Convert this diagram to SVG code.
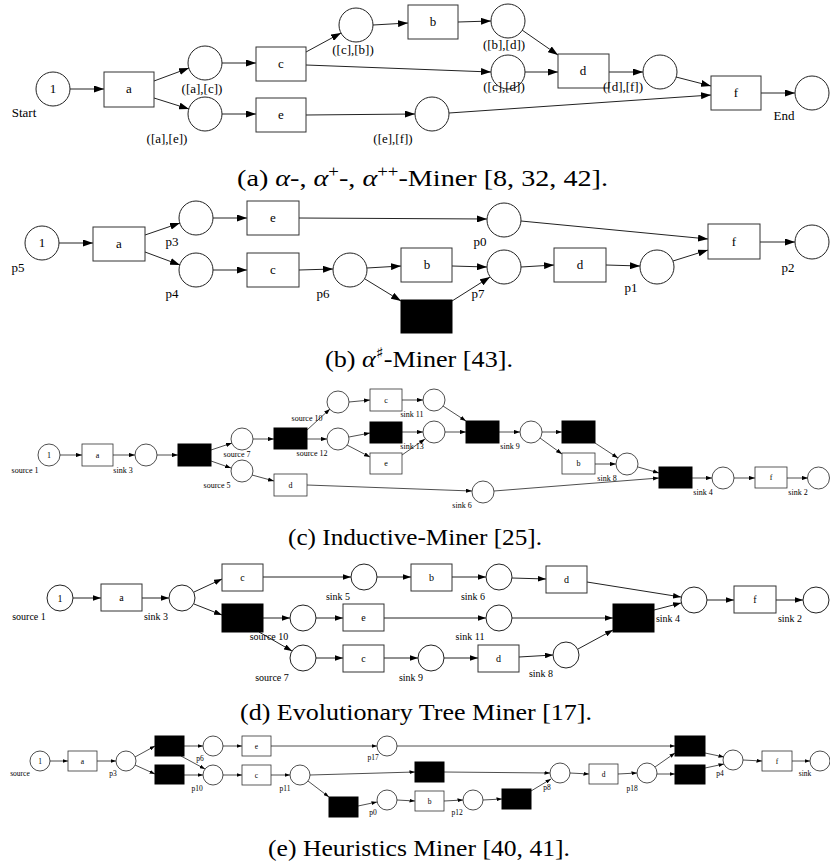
<svg xmlns="http://www.w3.org/2000/svg" width="830" height="867" viewBox="0 0 830 867">
<style>
text{font-family:"Liberation Serif","Times New Roman",serif;fill:#000}
.pl{fill:#fff;stroke:#222;stroke-width:1}
.tr{fill:#fff;stroke:#333;stroke-width:1}
.bk{fill:#000;stroke:#000;stroke-width:1}
.e{fill:none;stroke:#222;stroke-width:1}
.ea{marker-end:url(#mA)}
.ec{marker-end:url(#mC);stroke-width:0.8}
.ed{marker-end:url(#mD)}
.ee{marker-end:url(#mE);stroke-width:0.8}
.ta{font-size:13px;text-anchor:middle}
.tc{font-size:8px;text-anchor:middle}
.td{font-size:10px;text-anchor:middle}
.te{font-size:7.5px;text-anchor:middle}
.cap{font-size:24px}
.sc .pl,.sc .tr,.se .pl,.se .tr{stroke-width:0.8}
</style>
<defs>
<marker id="mA" viewBox="0 0 10 7" refX="10" refY="3.5" markerWidth="10" markerHeight="7" markerUnits="userSpaceOnUse" orient="auto"><path d="M0,0L10,3.5L0,7z" fill="#000"/></marker>
<marker id="mC" viewBox="0 0 10 7" refX="10" refY="3.5" markerWidth="6" markerHeight="4.4" markerUnits="userSpaceOnUse" orient="auto"><path d="M0,0L10,3.5L0,7z" fill="#000"/></marker>
<marker id="mD" viewBox="0 0 10 7" refX="10" refY="3.5" markerWidth="8" markerHeight="5.6" markerUnits="userSpaceOnUse" orient="auto"><path d="M0,0L10,3.5L0,7z" fill="#000"/></marker>
<marker id="mE" viewBox="0 0 10 7" refX="10" refY="3.5" markerWidth="5.5" markerHeight="4" markerUnits="userSpaceOnUse" orient="auto"><path d="M0,0L10,3.5L0,7z" fill="#000"/></marker>
</defs>

<!-- ===== (a) ===== -->
<g id="a-connectors" class="e ea">
<path d="M70,89L104,89"/><path d="M154,81L189,68"/><path d="M154,98L189,109"/>
<path d="M222,63L256,63"/><path d="M222,114L256,114"/><path d="M306,52L341,33"/>
<path d="M306,65L491,72"/><path d="M306,115L415,114"/><path d="M373,25L408,23"/>
<path d="M458,22L491,21"/><path d="M522,30L558,55"/><path d="M525,72L558,72"/>
<path d="M609,72L643,72"/><path d="M676,77L711,86"/><path d="M449,113L711,95"/>
<path d="M761,93L795,93"/>
</g>
<g id="a-start"><circle class="pl" cx="53" cy="89" r="17"/><text class="ta" x="53" y="93">1</text><text class="ta" x="24" y="117">Start</text></g>
<g id="a-t-a"><rect class="tr" x="104" y="72" width="50" height="35"/><text class="ta" x="129" y="93">a</text></g>
<g id="a-p-ac"><circle class="pl" cx="205" cy="63" r="17"/><text class="ta" x="202" y="93">([a],[c])</text></g>
<g id="a-p-ae"><circle class="pl" cx="205" cy="114" r="17"/><text class="ta" x="167" y="143">([a],[e])</text></g>
<g id="a-t-c"><rect class="tr" x="256" y="47" width="50" height="34"/><text class="ta" x="281" y="68">c</text></g>
<g id="a-t-e"><rect class="tr" x="256" y="98" width="50" height="34"/><text class="ta" x="281" y="119">e</text></g>
<g id="a-p-cb"><circle class="pl" cx="356" cy="25" r="17"/><text class="ta" x="353" y="54">([c],[b])</text></g>
<g id="a-t-b"><rect class="tr" x="408" y="5" width="50" height="34"/><text class="ta" x="433" y="26">b</text></g>
<g id="a-p-bd"><circle class="pl" cx="508" cy="21" r="17"/><text class="ta" x="504" y="49">([b],[d])</text></g>
<g id="a-p-cd"><circle class="pl" cx="508" cy="72" r="17"/><text class="ta" x="504" y="91">([c],[d])</text></g>
<g id="a-t-d"><rect class="tr" x="558" y="54" width="51" height="34"/><text class="ta" x="583" y="75">d</text></g>
<g id="a-p-df"><circle class="pl" cx="660" cy="72" r="17"/><text class="ta" x="623" y="91">([d],[f])</text></g>
<g id="a-p-ef"><circle class="pl" cx="432" cy="114" r="17"/><text class="ta" x="393" y="143">([e],[f])</text></g>
<g id="a-t-f"><rect class="tr" x="711" y="76" width="50" height="34"/><text class="ta" x="736" y="97">f</text></g>
<g id="a-end"><circle class="pl" cx="812" cy="93" r="17"/><text class="ta" x="784" y="120">End</text></g>
<text class="cap" x="237" y="186" textLength="371" lengthAdjust="spacingAndGlyphs">(a) <tspan font-style="italic">α</tspan>-, <tspan font-style="italic">α</tspan><tspan font-size="16" dy="-9">+</tspan><tspan dy="9">-, </tspan><tspan font-style="italic">α</tspan><tspan font-size="16" dy="-9">++</tspan><tspan dy="9">-Miner [8, 32, 42].</tspan></text>

<!-- ===== (b) ===== -->
<g id="b-connectors" class="e ea">
<path d="M59,243L93,243"/><path d="M145,235L180,223"/><path d="M145,252L180,265"/>
<path d="M213,218L247,218"/><path d="M213,270L247,270"/><path d="M299,218L487,219"/>
<path d="M299,270L333,269"/><path d="M367,268L401,266"/><path d="M365,279L401,301"/>
<path d="M452,266L487,267"/><path d="M452,301L490,277"/><path d="M521,221L708,239"/>
<path d="M521,267L554,265"/><path d="M606,265L640,266"/><path d="M673,261L708,250"/>
<path d="M760,242L795,242"/>
</g>
<g id="b-p5"><circle class="pl" cx="42" cy="243" r="17"/><text class="ta" x="42" y="247">1</text><text class="ta" x="18" y="272">p5</text></g>
<g id="b-t-a"><rect class="tr" x="93" y="227" width="52" height="34"/><text class="ta" x="119" y="248">a</text></g>
<g id="b-p3"><circle class="pl" cx="196" cy="218" r="17"/><text class="ta" x="172" y="246">p3</text></g>
<g id="b-p4"><circle class="pl" cx="196" cy="270" r="17"/><text class="ta" x="172" y="298">p4</text></g>
<g id="b-t-e"><rect class="tr" x="247" y="201" width="52" height="34"/><text class="ta" x="273" y="222">e</text></g>
<g id="b-t-c"><rect class="tr" x="247" y="253" width="52" height="34"/><text class="ta" x="273" y="274">c</text></g>
<g id="b-p6"><circle class="pl" cx="350" cy="270" r="17"/><text class="ta" x="323" y="298">p6</text></g>
<g id="b-t-b"><rect class="tr" x="401" y="248" width="51" height="34"/><text class="ta" x="427" y="269">b</text></g>
<g id="b-t-silent"><rect class="bk" x="401" y="300" width="51" height="33"/></g>
<g id="b-p0"><circle class="pl" cx="504" cy="220" r="17"/><text class="ta" x="480" y="246">p0</text></g>
<g id="b-p7"><circle class="pl" cx="504" cy="267" r="17"/><text class="ta" x="478" y="298">p7</text></g>
<g id="b-t-d"><rect class="tr" x="554" y="248" width="52" height="34"/><text class="ta" x="580" y="269">d</text></g>
<g id="b-p1"><circle class="pl" cx="657" cy="267" r="17"/><text class="ta" x="631" y="292">p1</text></g>
<g id="b-t-f"><rect class="tr" x="708" y="224" width="52" height="35"/><text class="ta" x="734" y="246">f</text></g>
<g id="b-p2"><circle class="pl" cx="812" cy="242" r="17"/><text class="ta" x="788" y="272">p2</text></g>
<text class="cap" x="325" y="367" textLength="188" lengthAdjust="spacingAndGlyphs">(b) <tspan font-style="italic">α</tspan><tspan font-size="15" dy="-9" font-family="DejaVu Serif, serif">♯</tspan><tspan dy="9">-Miner [43].</tspan></text>

<!-- ===== (c) ===== -->
<g id="c-connectors" class="e ec">
<path d="M60,455L82,455"/><path d="M113,455L135,455"/><path d="M157,455L178,455"/>
<path d="M211,450L232,443"/><path d="M211,461L231,468"/><path d="M253,439L274,439"/>
<path d="M252,475L274,481"/><path d="M307,430L330,409"/><path d="M307,439L327,439"/>
<path d="M349,402L370,400"/><path d="M349,437L370,433"/><path d="M347,445L370,457"/>
<path d="M402,400L423,400"/><path d="M402,432L423,432"/><path d="M402,455L425,439"/>
<path d="M443,406L466,421"/><path d="M445,432L466,432"/><path d="M499,432L520,432"/>
<path d="M542,432L562,432"/><path d="M540,438L562,454"/><path d="M595,443L618,458"/>
<path d="M595,464L616,464"/><path d="M307,485L472,491"/><path d="M638,467L659,473"/>
<path d="M494,491L659,478"/><path d="M692,478L712,478"/><path d="M734,478L755,478"/>
<path d="M787,478L808,478"/>
</g>
<g class="sc">
<g id="c-source1"><circle class="pl" cx="49" cy="455" r="11"/><text class="tc" x="49" y="458">1</text><text class="tc" x="25" y="473">source 1</text></g>
<g id="c-t-a"><rect class="tr" x="82" y="444" width="31" height="22"/><text class="tc" x="97.5" y="458">a</text></g>
<g id="c-sink3"><circle class="pl" cx="146" cy="455" r="11"/><text class="tc" x="123" y="473">sink 3</text></g>
<g id="c-t-tau1"><rect class="bk" x="178" y="444" width="33" height="22"/></g>
<g id="c-source7"><circle class="pl" cx="242" cy="439" r="11"/><text class="tc" x="237" y="457">source 7</text></g>
<g id="c-source5"><circle class="pl" cx="242" cy="471" r="11"/><text class="tc" x="217" y="488">source 5</text></g>
<g id="c-t-tau2"><rect class="bk" x="274" y="428" width="33" height="21"/></g>
<g id="c-t-d"><rect class="tr" x="274" y="474" width="33" height="22"/><text class="tc" x="290.5" y="488">d</text></g>
<g id="c-source10"><circle class="pl" cx="338" cy="402" r="11"/><text class="tc" x="307" y="421">source 10</text></g>
<g id="c-source12"><circle class="pl" cx="338" cy="439" r="11"/><text class="tc" x="312" y="456">source 12</text></g>
<g id="c-t-c"><rect class="tr" x="370" y="389" width="32" height="22"/><text class="tc" x="386" y="403">c</text></g>
<g id="c-t-tau3"><rect class="bk" x="370" y="422" width="32" height="21"/></g>
<g id="c-t-e"><rect class="tr" x="370" y="453" width="32" height="21"/><text class="tc" x="386" y="466">e</text></g>
<g id="c-sink11"><circle class="pl" cx="434" cy="400" r="11"/><text class="tc" x="412" y="417">sink 11</text></g>
<g id="c-sink13"><circle class="pl" cx="434" cy="432" r="11"/><text class="tc" x="412" y="449">sink 13</text></g>
<g id="c-t-tau4"><rect class="bk" x="466" y="421" width="33" height="22"/></g>
<g id="c-sink9"><circle class="pl" cx="531" cy="432" r="11"/><text class="tc" x="510" y="449">sink 9</text></g>
<g id="c-t-tau5"><rect class="bk" x="562" y="421" width="33" height="22"/></g>
<g id="c-t-b"><rect class="tr" x="562" y="453" width="33" height="21"/><text class="tc" x="578.5" y="466">b</text></g>
<g id="c-sink8"><circle class="pl" cx="627" cy="464" r="11"/><text class="tc" x="607" y="481">sink 8</text></g>
<g id="c-sink6"><circle class="pl" cx="483" cy="492" r="11"/><text class="tc" x="462" y="508">sink 6</text></g>
<g id="c-t-tau6"><rect class="bk" x="659" y="467" width="33" height="21"/></g>
<g id="c-sink4"><circle class="pl" cx="723" cy="478" r="11"/><text class="tc" x="703" y="495">sink 4</text></g>
<g id="c-t-f"><rect class="tr" x="755" y="467" width="32" height="21"/><text class="tc" x="771" y="480">f</text></g>
<g id="c-sink2"><circle class="pl" cx="818.5" cy="478" r="11"/><text class="tc" x="798" y="495">sink 2</text></g>
</g>
<text class="cap" x="288" y="545" textLength="254" lengthAdjust="spacingAndGlyphs">(c) Inductive-Miner [25].</text>

<!-- ===== (d) ===== -->
<g id="d-connectors" class="e ed">
<path d="M73,598L101,598"/><path d="M142,598L169,598"/><path d="M194,592L222,579"/>
<path d="M194,604L222,615"/><path d="M263,577L351,577"/><path d="M263,618L290,618"/>
<path d="M259,632L292,651"/><path d="M377,577L411,577"/><path d="M316,618L343,618"/>
<path d="M316,658L343,658"/><path d="M452,577L486,577"/><path d="M384,618L486,618"/>
<path d="M384,658L418,658"/><path d="M512,578L546,579"/><path d="M444,658L478,658"/>
<path d="M519,657L553,655"/><path d="M587,582L681,597"/><path d="M512,618L613,618"/>
<path d="M578,649L613,630"/><path d="M654,610L681,603"/><path d="M707,600L734,600"/>
<path d="M776,600L803,600"/>
</g>
<g id="d-source1"><circle class="pl" cx="60" cy="598" r="13"/><text class="td" x="60" y="602">1</text><text class="td" x="29" y="620">source 1</text></g>
<g id="d-t-a"><rect class="tr" x="101" y="584" width="41" height="27"/><text class="td" x="121.5" y="601">a</text></g>
<g id="d-sink3"><circle class="pl" cx="182" cy="598" r="13"/><text class="td" x="156" y="620">sink 3</text></g>
<g id="d-t-c1"><rect class="tr" x="222" y="564" width="41" height="27"/><text class="td" x="242.5" y="581">c</text></g>
<g id="d-t-tau1"><rect class="bk" x="222" y="604" width="41" height="28"/></g>
<g id="d-sink5"><circle class="pl" cx="364" cy="577" r="13"/><text class="td" x="338" y="600">sink 5</text></g>
<g id="d-source10"><circle class="pl" cx="303" cy="618" r="13"/><text class="td" x="269" y="640">source 10</text></g>
<g id="d-source7"><circle class="pl" cx="303" cy="658" r="13"/><text class="td" x="272" y="681">source 7</text></g>
<g id="d-t-e"><rect class="tr" x="343" y="604" width="41" height="27"/><text class="td" x="363.5" y="621">e</text></g>
<g id="d-t-c2"><rect class="tr" x="343" y="645" width="41" height="27"/><text class="td" x="363.5" y="662">c</text></g>
<g id="d-t-b"><rect class="tr" x="411" y="564" width="41" height="27"/><text class="td" x="431.5" y="581">b</text></g>
<g id="d-sink9"><circle class="pl" cx="431" cy="658" r="13"/><text class="td" x="411" y="681">sink 9</text></g>
<g id="d-sink6"><circle class="pl" cx="499" cy="577" r="13"/><text class="td" x="473" y="600">sink 6</text></g>
<g id="d-sink11"><circle class="pl" cx="499" cy="618" r="13"/><text class="td" x="470" y="640">sink 11</text></g>
<g id="d-t-d1"><rect class="tr" x="546" y="566" width="41" height="27"/><text class="td" x="566.5" y="583">d</text></g>
<g id="d-t-d2"><rect class="tr" x="478" y="645" width="41" height="27"/><text class="td" x="498.5" y="662">d</text></g>
<g id="d-sink8"><circle class="pl" cx="566" cy="655" r="13"/><text class="td" x="541" y="677">sink 8</text></g>
<g id="d-t-tau2"><rect class="bk" x="613" y="604" width="41" height="28"/></g>
<g id="d-sink4"><circle class="pl" cx="694" cy="600" r="13"/><text class="td" x="668" y="622">sink 4</text></g>
<g id="d-t-f"><rect class="tr" x="734" y="586" width="42" height="27"/><text class="td" x="755" y="603">f</text></g>
<g id="d-sink2"><circle class="pl" cx="816" cy="600" r="13"/><text class="td" x="790" y="622">sink 2</text></g>
<text class="cap" x="240" y="720" textLength="352" lengthAdjust="spacingAndGlyphs">(d) Evolutionary Tree Miner [17].</text>

<!-- ===== (e) ===== -->
<g id="e-connectors" class="e ee">
<path d="M50,761L68,761"/><path d="M97,761L116,761"/><path d="M135,757L155,746"/>
<path d="M135,765L155,774"/><path d="M184,746L203,746"/><path d="M181,756L205,769"/>
<path d="M184,775L203,775"/><path d="M223,746L242,746"/><path d="M223,775L242,775"/>
<path d="M271,746L377,746"/><path d="M271,775L290,775"/><path d="M310,775L415,772"/>
<path d="M308,781L329,797"/><path d="M397,746L675,746"/><path d="M358,806L377,802"/>
<path d="M397,800L415,801"/><path d="M444,772L550,773"/><path d="M444,801L463,800"/>
<path d="M483,800L502,799"/><path d="M531,791L551,779"/><path d="M570,773L589,774"/>
<path d="M618,774L637,773"/><path d="M655,767L675,753"/><path d="M657,774L675,774"/>
<path d="M705,753L724,757"/><path d="M705,768L724,764"/><path d="M743,760L762,761"/>
<path d="M792,761L810,761"/>
</g>
<g class="se">
<g id="e-source"><circle class="pl" cx="40" cy="761" r="10"/><text class="te" x="40" y="764">1</text><text class="te" x="20" y="776">source</text></g>
<g id="e-t-a"><rect class="tr" x="68" y="751" width="29" height="20"/><text class="te" x="82.5" y="764">a</text></g>
<g id="e-p3"><circle class="pl" cx="126" cy="761" r="10"/><text class="te" x="113" y="776">p3</text></g>
<g id="e-t-tau1"><rect class="bk" x="155" y="736" width="29" height="20"/></g>
<g id="e-t-tau2"><rect class="bk" x="155" y="765" width="29" height="19"/></g>
<g id="e-p6"><circle class="pl" cx="213" cy="746" r="10"/><text class="te" x="200" y="761">p6</text></g>
<g id="e-p10"><circle class="pl" cx="213" cy="775" r="10"/><text class="te" x="197" y="791">p10</text></g>
<g id="e-t-e"><rect class="tr" x="242" y="736" width="29" height="20"/><text class="te" x="256.5" y="749">e</text></g>
<g id="e-t-c"><rect class="tr" x="242" y="765" width="29" height="20"/><text class="te" x="256.5" y="778">c</text></g>
<g id="e-p17"><circle class="pl" cx="387" cy="746" r="10"/><text class="te" x="373" y="760">p17</text></g>
<g id="e-p11"><circle class="pl" cx="300" cy="775" r="10"/><text class="te" x="285" y="791">p11</text></g>
<g id="e-t-tau3"><rect class="bk" x="329" y="797" width="29" height="20"/></g>
<g id="e-p0"><circle class="pl" cx="387" cy="800" r="10"/><text class="te" x="373" y="815">p0</text></g>
<g id="e-t-b"><rect class="tr" x="415" y="791" width="29" height="20"/><text class="te" x="429.5" y="804">b</text></g>
<g id="e-t-tau4"><rect class="bk" x="415" y="762" width="29" height="20"/></g>
<g id="e-p12"><circle class="pl" cx="473" cy="800" r="10"/><text class="te" x="457" y="815">p12</text></g>
<g id="e-t-tau5"><rect class="bk" x="502" y="789" width="29" height="20"/></g>
<g id="e-p8"><circle class="pl" cx="560" cy="773" r="10"/><text class="te" x="547" y="790">p8</text></g>
<g id="e-t-d"><rect class="tr" x="589" y="764" width="29" height="20"/><text class="te" x="603.5" y="777">d</text></g>
<g id="e-p18"><circle class="pl" cx="647" cy="773" r="10"/><text class="te" x="632" y="791">p18</text></g>
<g id="e-t-tau6"><rect class="bk" x="675" y="736" width="30" height="20"/></g>
<g id="e-t-tau7"><rect class="bk" x="675" y="765" width="30" height="19"/></g>
<g id="e-p4"><circle class="pl" cx="733" cy="760" r="10"/><text class="te" x="720" y="776">p4</text></g>
<g id="e-t-f"><rect class="tr" x="762" y="751" width="30" height="20"/><text class="te" x="777" y="764">f</text></g>
<g id="e-sink"><circle class="pl" cx="820" cy="761" r="10"/><text class="te" x="805" y="776">sink</text></g>
</g>
<text class="cap" x="268" y="856" textLength="302" lengthAdjust="spacingAndGlyphs">(e) Heuristics Miner [40, 41].</text>
</svg>
